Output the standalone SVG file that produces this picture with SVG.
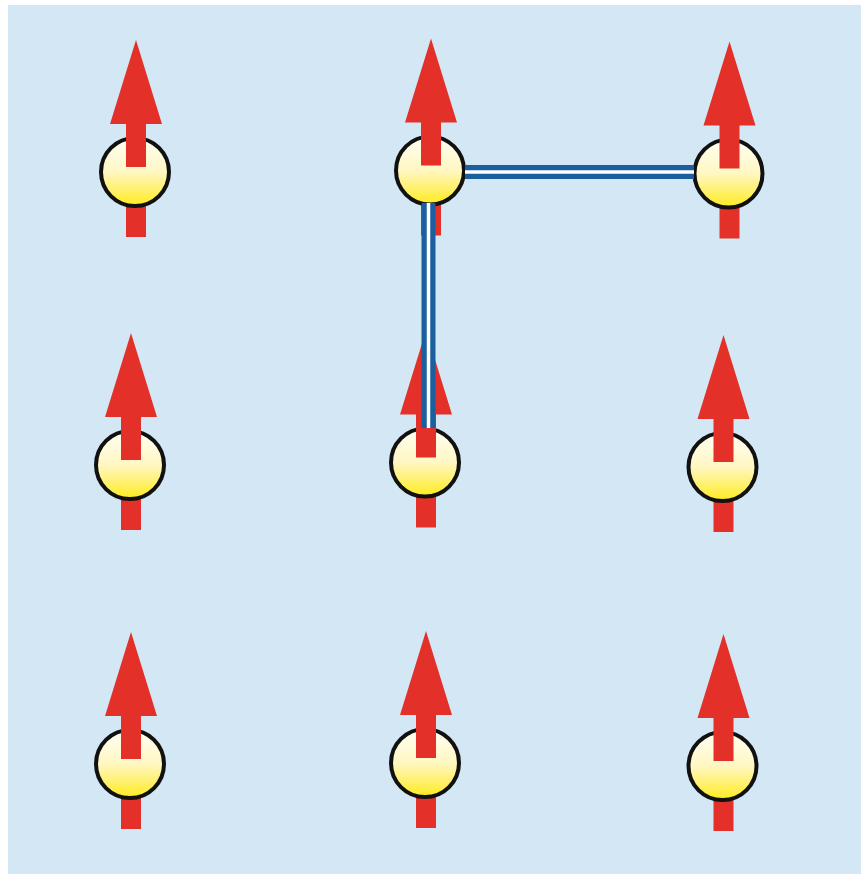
<svg xmlns="http://www.w3.org/2000/svg" width="861" height="874" viewBox="0 0 861 874">
  <style>
    .spin { fill: #e3312a; }
    .site { fill: url(#ball); stroke: #111; stroke-width: 4; }
    .bond-outer { stroke: #1b5f9f; stroke-width: 14; fill: none; }
    .bond-inner { stroke: #ffffff; stroke-width: 3.5; fill: none; }
  </style>
  <defs>
    <linearGradient id="ball" x1="0" y1="0" x2="0" y2="1">
      <stop offset="0" stop-color="#fffef4"/>
      <stop offset="0.5" stop-color="#fff7c2"/>
      <stop offset="1" stop-color="#ffeb1e"/>
    </linearGradient>
    <!-- spin-up site: tail stub behind the ball, arrow body in front -->
    <g id="site-up">
      <rect class="spin" x="-9" y="0" width="20" height="65"/>
      <circle class="site" cx="0" cy="0" r="34"/>
      <polygon class="spin" points="1,-132 27,-48 11,-48 11,-5 -9,-5 -9,-48 -25,-48"/>
    </g>
  </defs>

  <rect x="8" y="5" width="853" height="869" fill="#d3e8f4"/>

  <g id="node-r1c1"><use href="#site-up" x="135" y="172"/></g>
  <g id="node-r1c2"><use href="#site-up" x="430" y="170.5"/></g>
  <g id="node-r1c3"><use href="#site-up" x="728.5" y="173.5"/></g>
  <g id="node-r2c1"><use href="#site-up" x="130" y="465"/></g>
  <g id="node-r2c2"><use href="#site-up" x="425" y="462.5"/></g>
  <g id="node-r2c3"><use href="#site-up" x="722.5" y="467"/></g>
  <g id="node-r3c1"><use href="#site-up" x="130" y="764"/></g>
  <g id="node-r3c2"><use href="#site-up" x="425" y="763"/></g>
  <g id="node-r3c3"><use href="#site-up" x="722.5" y="766"/></g>

  <g id="connectors">
    <line class="bond-outer" x1="465" y1="172" x2="694" y2="172"/>
    <line class="bond-inner" x1="465" y1="172" x2="694" y2="172"/>
    <line class="bond-outer" x1="428.5" y1="203" x2="428.5" y2="428"/>
    <line class="bond-inner" x1="428.5" y1="203" x2="428.5" y2="428"/>
  </g>
</svg>
